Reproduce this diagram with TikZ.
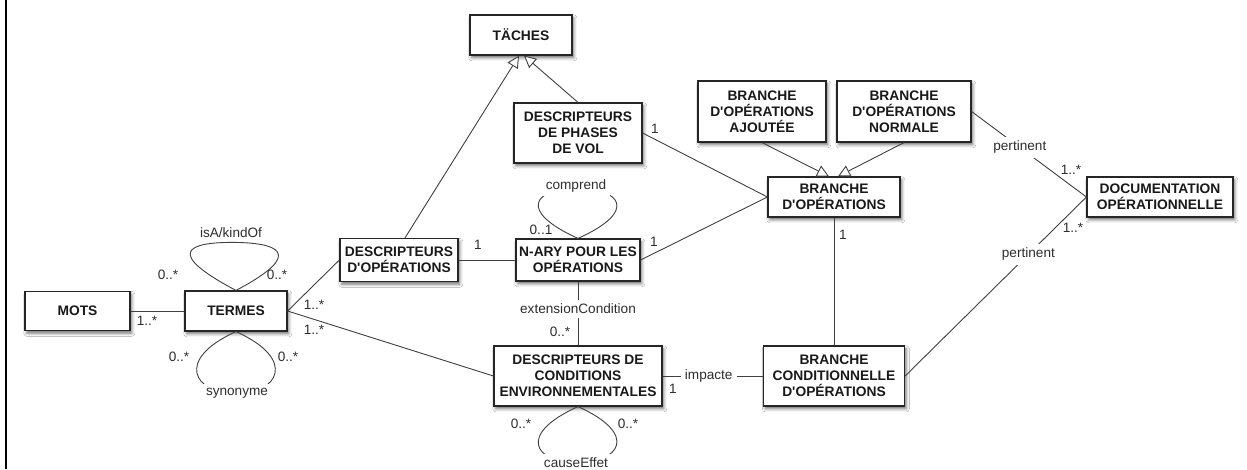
\documentclass[tikz,border=0pt]{standalone}
\usepackage{fontspec}
\newfontfamily\diafont[Ligatures=ResetAll]{Liberation Sans}
\usetikzlibrary{arrows.meta,shadows.blur,calc}
\begin{document}
\begin{tikzpicture}[x=1pt,y=-1pt,
  box/.style={draw=black!85, line width=1.2pt, fill=white, align=center, text=black!90,
    font=\diafont\bfseries\fontsize{13.8}{16}\selectfont, inner sep=0pt,
    blur shadow={shadow xshift=1.8pt, shadow yshift=-2.8pt, shadow blur radius=3pt, shadow opacity=55}},
  conn/.style={draw=black!75, line width=0.9pt},
  gen/.style={conn, -{Triangle[open, length=12pt, width=12pt, fill=white]}},
  lbl/.style={font=\diafont\fontsize{13.6}{16}\selectfont, text=black!82, inner sep=1pt},
  onl/.style={lbl, fill=white, inner sep=4pt}]

\useasboundingbox (0,0) rectangle (1247,469);
\fill[white] (0,0) rectangle (1247,469);
\draw[line width=2.4pt] (6.2,0) -- (6.2,469);

% classes
\node[box, minimum width=102pt, minimum height=40pt] (taches) at (521,35) {TÄCHES};
\node[box, minimum width=128pt, minimum height=60pt] (phases) at (578,133) {DESCRIPTEURS\\DE PHASES\\DE VOL};
\node[box, minimum width=128pt, minimum height=61pt] (ajoutee) at (762,111.5) {BRANCHE\\D'OPÉRATIONS\\AJOUTÉE};
\node[box, minimum width=134pt, minimum height=61pt] (normale) at (904,111.5) {BRANCHE\\D'OPÉRATIONS\\NORMALE};
\node[box, minimum width=132pt, minimum height=40pt] (branche) at (834,197) {BRANCHE\\D'OPÉRATIONS};
\node[box, minimum width=146pt, minimum height=40pt] (doc) at (1160,197) {DOCUMENTATION\\OPÉRATIONNELLE};
\node[box, minimum width=105pt, minimum height=39pt] (mots) at (77.5,311) {MOTS};
\node[box, minimum width=102pt, minimum height=40pt] (termes) at (236,311) {TERMES};
\node[box, minimum width=118pt, minimum height=43pt] (dops) at (399,260) {DESCRIPTEURS\\D'OPÉRATIONS};
\node[box, minimum width=124pt, minimum height=42pt] (nary) at (578,260) {N-ARY POUR LES\\OPÉRATIONS};
\node[box, minimum width=168pt, minimum height=60pt] (cond) at (578,376) {DESCRIPTEURS DE\\CONDITIONS\\ENVIRONNEMENTALES};
\node[box, minimum width=141pt, minimum height=60pt] (bcond) at (834,376) {BRANCHE\\CONDITIONNELLE\\D'OPÉRATIONS};

% associations
\draw[conn] (mots.east) -- (termes.west);
\draw[conn] (termes.east) -- (dops.west);
\draw[conn] (termes.east) -- (cond.west);
\draw[conn] (dops.east) -- (nary.west);
\draw[conn] (phases.east) -- (branche.west);
\draw[conn] (nary.east) -- (branche.west);
\draw[conn] (branche.south) -- (bcond.north);
\draw[conn] (nary.south) -- node[onl, pos=0.43] (extc) {extensionCondition} (cond.north);
\draw[conn] (cond.east) -- node[onl, pos=0.46] (imp) {impacte} (bcond.west);
\draw[conn] (normale.east) -- node[onl, pos=0.42] (pert1) {pertinent} (doc.west);
\draw[conn] (bcond.east) -- node[onl, pos=0.68] (pert2) {pertinent} (doc.west);

% generalisations
\draw[gen] ([xshift=6pt]dops.north) -- ([xshift=-2pt]taches.south);
\draw[gen] (phases.north) -- ([xshift=3pt]taches.south);
\draw[gen] (ajoutee.south) -- ([xshift=-5pt]branche.north);
\draw[gen] (normale.south) -- ([xshift=4pt]branche.north);

% reflexive associations
\draw[conn] (termes.north) .. controls ($(termes.north)+(-72,-38)$) and ($(termes.north)+(-48,-48)$)
  .. ($(termes.north)+(-4,-48)$) .. controls ($(termes.north)+(40,-48)$) and ($(termes.north)+(72,-38)$) .. (termes.north);
\draw[conn] (termes.south) .. controls ($(termes.south)+(-62,28)$) and ($(termes.south)+(-42,62)$)
  .. ($(termes.south)+(0,62)$) .. controls ($(termes.south)+(42,62)$) and ($(termes.south)+(62,28)$) .. (termes.south);
\draw[conn] (nary.north) .. controls ($(nary.north)+(-62,-28)$) and ($(nary.north)+(-43,-50)$)
  .. ($(nary.north)+(-1,-50)$) .. controls ($(nary.north)+(41,-50)$) and ($(nary.north)+(62,-28)$) .. (nary.north);
\draw[conn] (cond.south) .. controls ($(cond.south)+(-62,28)$) and ($(cond.south)+(-43,56)$)
  .. ($(cond.south)+(-1,56)$) .. controls ($(cond.south)+(41,56)$) and ($(cond.south)+(62,28)$) .. (cond.south);

% role names
\node[lbl] (isa) at (231,233) {isA/kindOf};
\node[onl] (syn) at (237,393) {synonyme};
\node[onl] (compr) at (576,186) {comprend};
\node[onl] (cause) at (576,463) {causeEffet};

% multiplicities
\node[lbl] (m1) at (147,321) {1..*};
\node[lbl] (m2) at (168,275) {0..*};
\node[lbl] (m3) at (277,275) {0..*};
\node[lbl] (m4) at (179,357) {0..*};
\node[lbl] (m5) at (288,357) {0..*};
\node[lbl] (m6) at (314,305) {1..*};
\node[lbl] (m7) at (314,330) {1..*};
\node[lbl] (m8) at (478,245) {1};
\node[lbl] (m9) at (541,230) {0..1};
\node[lbl] (m10) at (655,129) {1};
\node[lbl] (m11) at (654,242) {1};
\node[lbl] (m12) at (560,332) {0..*};
\node[lbl] (m13) at (673,389) {1};
\node[lbl] (m14) at (843,235) {1};
\node[lbl] (m15) at (1071,170) {1..*};
\node[lbl] (m16) at (1073,228) {1..*};
\node[lbl] (m17) at (521,424) {0..*};
\node[lbl] (m18) at (628,424) {0..*};
\end{tikzpicture}
\end{document}
